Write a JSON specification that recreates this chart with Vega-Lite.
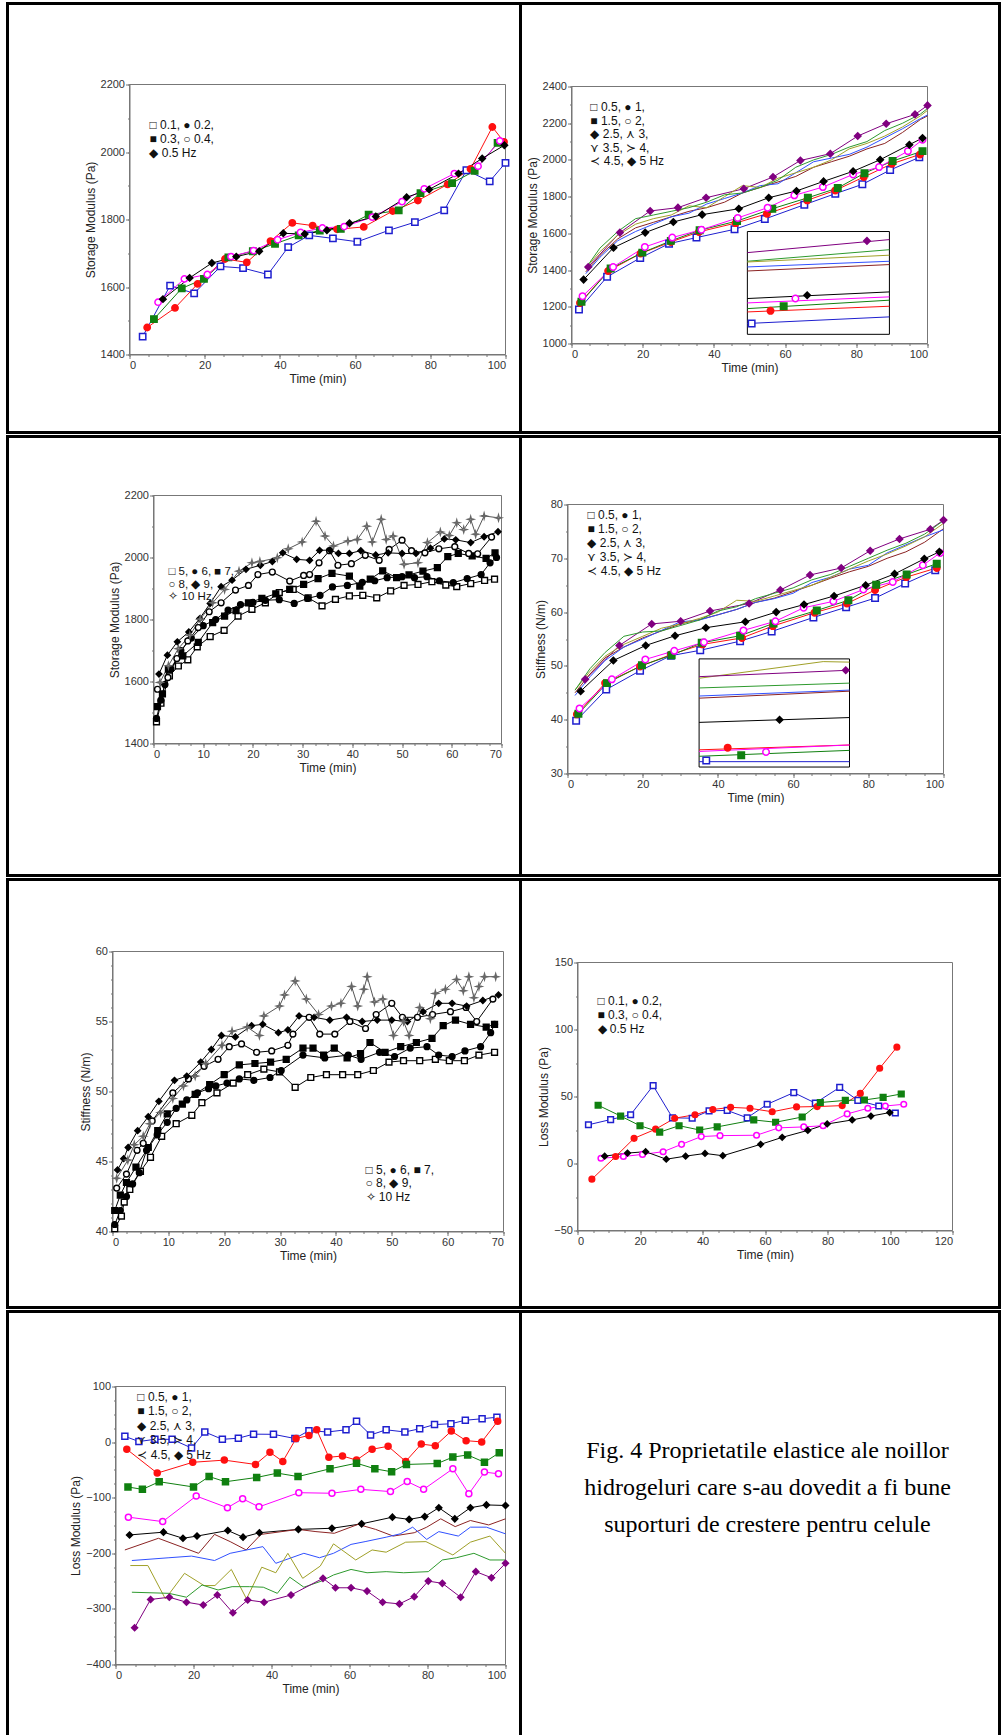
{
"$schema":"https://vega.github.io/schema/vega-lite/v6.json",
"padding":{"left":5.5,"top":1.5,"right":0,"bottom":0},"background":"white",
"spacing":0,
"resolve":{"scale":{"color":"independent","fill":"independent","stroke":"independent","shape":"independent"}},
"config":{"view":{"stroke":"black","strokeWidth":3},"axis":{"grid":false,"format":"d","labelFont":"Liberation Sans","titleFont":"Liberation Sans","labelFontSize":11,"titleFontSize":12,"titleFontWeight":"normal","labelColor":"#333333","titleColor":"#222222","domainColor":"#777777","tickColor":"#777777","tickSize":4,"labelPadding":1,"titlePadding":3},"text":{"font":"Liberation Sans","fontSize":12,"color":"#111111"}},
"datasets":{
"p1":[
{"s":"0.1","t":3.5,"v":1453},{"s":"0.1","t":10.8,"v":1604},{"s":"0.1","t":17.2,"v":1581},{"s":"0.1","t":24.2,"v":1661},{"s":"0.1","t":30.2,"v":1656},{"s":"0.1","t":36.8,"v":1637},{"s":"0.1","t":42.2,"v":1718},{"s":"0.1","t":47.8,"v":1753},{"s":"0.1","t":54.1,"v":1744},{"s":"0.1","t":60.6,"v":1734},{"s":"0.1","t":69,"v":1768},{"s":"0.1","t":75.9,"v":1792},{"s":"0.1","t":83.7,"v":1827},{"s":"0.1","t":89.6,"v":1946},{"s":"0.1","t":95.8,"v":1913},{"s":"0.1","t":100,"v":1968},
{"s":"0.2","t":4.7,"v":1480},{"s":"0.2","t":12.1,"v":1538},{"s":"0.2","t":18.1,"v":1609},{"s":"0.2","t":25.4,"v":1683},{"s":"0.2","t":31.2,"v":1673},{"s":"0.2","t":37.5,"v":1736},{"s":"0.2","t":43.3,"v":1790},{"s":"0.2","t":48.7,"v":1782},{"s":"0.2","t":55.2,"v":1771},{"s":"0.2","t":62.3,"v":1778},{"s":"0.2","t":70,"v":1825},{"s":"0.2","t":76.7,"v":1856},{"s":"0.2","t":84.6,"v":1904},{"s":"0.2","t":90.7,"v":1950},{"s":"0.2","t":96.5,"v":2074},{"s":"0.2","t":99.6,"v":2030},
{"s":"0.3","t":6.5,"v":1505},{"s":"0.3","t":13.9,"v":1596},{"s":"0.3","t":19.8,"v":1624},{"s":"0.3","t":26.3,"v":1688},{"s":"0.3","t":32.8,"v":1706},{"s":"0.3","t":38.7,"v":1728},{"s":"0.3","t":45,"v":1753},{"s":"0.3","t":50.6,"v":1767},{"s":"0.3","t":56.2,"v":1772},{"s":"0.3","t":63.6,"v":1814},{"s":"0.3","t":71.6,"v":1827},{"s":"0.3","t":77.4,"v":1878},{"s":"0.3","t":85.8,"v":1908},{"s":"0.3","t":91.8,"v":1944},{"s":"0.3","t":97.9,"v":2027},
{"s":"0.4","t":7.6,"v":1555},{"s":"0.4","t":14.6,"v":1624},{"s":"0.4","t":20.7,"v":1637},{"s":"0.4","t":27,"v":1690},{"s":"0.4","t":33,"v":1708},{"s":"0.4","t":39.4,"v":1740},{"s":"0.4","t":45.5,"v":1762},{"s":"0.4","t":51.3,"v":1775},{"s":"0.4","t":57.1,"v":1779},{"s":"0.4","t":64.6,"v":1807},{"s":"0.4","t":72.5,"v":1853},{"s":"0.4","t":78.4,"v":1891},{"s":"0.4","t":86.4,"v":1936},{"s":"0.4","t":92.7,"v":1958},{"s":"0.4","t":98.5,"v":2033},
{"s":"0.5","t":8.9,"v":1564},{"s":"0.5","t":16,"v":1627},{"s":"0.5","t":21.9,"v":1671},{"s":"0.5","t":28.4,"v":1690},{"s":"0.5","t":34.5,"v":1706},{"s":"0.5","t":40.9,"v":1759},{"s":"0.5","t":46.6,"v":1757},{"s":"0.5","t":52.5,"v":1768},{"s":"0.5","t":58.5,"v":1789},{"s":"0.5","t":65.5,"v":1809},{"s":"0.5","t":73.7,"v":1866},{"s":"0.5","t":79.7,"v":1889},{"s":"0.5","t":87.5,"v":1936},{"s":"0.5","t":93.8,"v":1981},{"s":"0.5","t":99.7,"v":2020}
],
"p2":[
{"s":"0.5","t":2.1,"v":1185},{"s":"0.5","t":10,"v":1363},{"s":"0.5","t":19.3,"v":1466},{"s":"0.5","t":27.4,"v":1544},{"s":"0.5","t":35.1,"v":1577},{"s":"0.5","t":45.8,"v":1622},{"s":"0.5","t":54.3,"v":1678},{"s":"0.5","t":65.4,"v":1756},{"s":"0.5","t":74.1,"v":1816},{"s":"0.5","t":81.7,"v":1867},{"s":"0.5","t":89.5,"v":1945},{"s":"0.5","t":97.7,"v":2014},
{"s":"1","t":2.4,"v":1221},{"s":"1","t":10.3,"v":1395},{"s":"1","t":19.4,"v":1490},{"s":"1","t":27.9,"v":1553},{"s":"1","t":35.8,"v":1608},{"s":"1","t":46.1,"v":1656},{"s":"1","t":54.9,"v":1707},{"s":"1","t":66.2,"v":1780},{"s":"1","t":74.1,"v":1834},{"s":"1","t":82.1,"v":1907},{"s":"1","t":90,"v":1979},{"s":"1","t":97.9,"v":2030},
{"s":"1.5","t":2.8,"v":1227},{"s":"1.5","t":11,"v":1408},{"s":"1.5","t":19.9,"v":1495},{"s":"1.5","t":27.9,"v":1559},{"s":"1.5","t":36,"v":1617},{"s":"1.5","t":46.5,"v":1667},{"s":"1.5","t":56.4,"v":1734},{"s":"1.5","t":66.4,"v":1794},{"s":"1.5","t":74.8,"v":1847},{"s":"1.5","t":82.3,"v":1928},{"s":"1.5","t":90.2,"v":1994},{"s":"1.5","t":98.6,"v":2048},
{"s":"2","t":3.1,"v":1258},{"s":"2","t":11.7,"v":1417},{"s":"2","t":20.6,"v":1526},{"s":"2","t":28.3,"v":1577},{"s":"2","t":36.5,"v":1620},{"s":"2","t":46.7,"v":1684},{"s":"2","t":55.1,"v":1740},{"s":"2","t":62.6,"v":1807},{"s":"2","t":70.6,"v":1852},{"s":"2","t":79.1,"v":1921},{"s":"2","t":86.4,"v":1961},{"s":"2","t":94.5,"v":2048},{"s":"2","t":98.6,"v":2110},
{"s":"2.5","t":3.4,"v":1348},{"s":"2.5","t":11.8,"v":1522},{"s":"2.5","t":20.7,"v":1604},{"s":"2.5","t":28.6,"v":1662},{"s":"2.5","t":36.7,"v":1702},{"s":"2.5","t":47,"v":1734},{"s":"2.5","t":55.4,"v":1794},{"s":"2.5","t":63.2,"v":1831},{"s":"2.5","t":70.8,"v":1883},{"s":"2.5","t":79.1,"v":1938},{"s":"2.5","t":86.7,"v":2001},{"s":"2.5","t":94.9,"v":2083},{"s":"2.5","t":98.6,"v":2119},
{"s":"5","t":4.7,"v":1417},{"s":"5","t":13.6,"v":1604},{"s":"5","t":22.1,"v":1722},{"s":"5","t":29.9,"v":1740},{"s":"5","t":37.8,"v":1794},{"s":"5","t":48.4,"v":1843},{"s":"5","t":56.6,"v":1907},{"s":"5","t":64.3,"v":1997},{"s":"5","t":72.7,"v":2034},{"s":"5","t":80.4,"v":2130},{"s":"5","t":88.4,"v":2197},{"s":"5","t":96.5,"v":2248},{"s":"5","t":100,"v":2297},
{"s":"3","t":4,"v":1390},{"s":"3","t":8,"v":1480},{"s":"3","t":13,"v":1570},{"s":"3","t":18,"v":1630},{"s":"3","t":23,"v":1660},{"s":"3","t":28,"v":1690},{"s":"3","t":33,"v":1720},{"s":"3","t":38,"v":1740},{"s":"3","t":43,"v":1770},{"s":"3","t":48,"v":1820},{"s":"3","t":53,"v":1850},{"s":"3","t":58,"v":1880},{"s":"3","t":63,"v":1910},{"s":"3","t":68,"v":1960},{"s":"3","t":73,"v":1990},{"s":"3","t":78,"v":2020},{"s":"3","t":83,"v":2060},{"s":"3","t":88,"v":2090},{"s":"3","t":93,"v":2150},{"s":"3","t":98,"v":2220},{"s":"3","t":100,"v":2240},
{"s":"3.5","t":4,"v":1380},{"s":"3.5","t":8,"v":1470},{"s":"3.5","t":13,"v":1560},{"s":"3.5","t":18,"v":1610},{"s":"3.5","t":23,"v":1650},{"s":"3.5","t":28,"v":1690},{"s":"3.5","t":33,"v":1710},{"s":"3.5","t":38,"v":1760},{"s":"3.5","t":43,"v":1790},{"s":"3.5","t":48,"v":1820},{"s":"3.5","t":53,"v":1860},{"s":"3.5","t":58,"v":1870},{"s":"3.5","t":63,"v":1930},{"s":"3.5","t":68,"v":1990},{"s":"3.5","t":73,"v":2010},{"s":"3.5","t":78,"v":2030},{"s":"3.5","t":83,"v":2070},{"s":"3.5","t":88,"v":2120},{"s":"3.5","t":93,"v":2170},{"s":"3.5","t":98,"v":2225},{"s":"3.5","t":100,"v":2245},
{"s":"4","t":4,"v":1410},{"s":"4","t":8,"v":1500},{"s":"4","t":13,"v":1590},{"s":"4","t":18,"v":1650},{"s":"4","t":23,"v":1680},{"s":"4","t":28,"v":1700},{"s":"4","t":33,"v":1750},{"s":"4","t":38,"v":1740},{"s":"4","t":43,"v":1800},{"s":"4","t":48,"v":1860},{"s":"4","t":53,"v":1850},{"s":"4","t":58,"v":1900},{"s":"4","t":63,"v":1930},{"s":"4","t":68,"v":1960},{"s":"4","t":73,"v":2000},{"s":"4","t":78,"v":2060},{"s":"4","t":83,"v":2090},{"s":"4","t":88,"v":2130},{"s":"4","t":93,"v":2180},{"s":"4","t":98,"v":2240},{"s":"4","t":100,"v":2270},
{"s":"4.5","t":4,"v":1410},{"s":"4.5","t":8,"v":1520},{"s":"4.5","t":13,"v":1610},{"s":"4.5","t":18,"v":1680},{"s":"4.5","t":23,"v":1700},{"s":"4.5","t":28,"v":1720},{"s":"4.5","t":33,"v":1740},{"s":"4.5","t":38,"v":1770},{"s":"4.5","t":43,"v":1810},{"s":"4.5","t":48,"v":1820},{"s":"4.5","t":53,"v":1850},{"s":"4.5","t":58,"v":1890},{"s":"4.5","t":63,"v":1960},{"s":"4.5","t":68,"v":2000},{"s":"4.5","t":73,"v":2030},{"s":"4.5","t":78,"v":2070},{"s":"4.5","t":83,"v":2100},{"s":"4.5","t":88,"v":2160},{"s":"4.5","t":93,"v":2200},{"s":"4.5","t":98,"v":2250},{"s":"4.5","t":100,"v":2280}
],
"p2i":[
{"s":"5","t":49.4,"v":1495},{"s":"5","t":89.3,"v":1566},
{"s":"4.5","t":49.4,"v":1448},{"s":"4.5","t":89.3,"v":1511},
{"s":"4","t":49.4,"v":1444},{"s":"4","t":89.3,"v":1481},
{"s":"3.5","t":49.4,"v":1417},{"s":"3.5","t":89.3,"v":1448},
{"s":"3","t":49.4,"v":1395},{"s":"3","t":89.3,"v":1430},
{"s":"2.5","t":49.4,"v":1245},{"s":"2.5","t":89.3,"v":1281},
{"s":"2","t":49.4,"v":1221},{"s":"2","t":89.3,"v":1254},
{"s":"1.5","t":49.4,"v":1190},{"s":"1.5","t":89.3,"v":1236},
{"s":"1","t":49.4,"v":1172},{"s":"1","t":89.3,"v":1203},
{"s":"0.5","t":49.4,"v":1109},{"s":"0.5","t":89.3,"v":1145}
],
"p2m":[
{"s":"5","t":83,"v":1559},{"s":"2.5","t":66.2,"v":1263},{"s":"2","t":62.9,"v":1245},{"s":"1.5","t":59.6,"v":1203},{"s":"1","t":55.9,"v":1178},{"s":"0.5","t":50.6,"v":1109}
],
"p3":[
{"s":"5","t":0.6,"v":1470},{"s":"5","t":1.5,"v":1530},{"s":"5","t":3.2,"v":1618},{"s":"5","t":5,"v":1650},{"s":"5","t":6.9,"v":1670},{"s":"5","t":8.8,"v":1712},{"s":"5","t":11.4,"v":1745},{"s":"5","t":14.2,"v":1765},{"s":"5","t":17,"v":1811},{"s":"5","t":19.8,"v":1833},{"s":"5","t":22.5,"v":1854},{"s":"5","t":25.3,"v":1887},{"s":"5","t":28.1,"v":1897},{"s":"5","t":31.1,"v":1870},{"s":"5","t":33.9,"v":1844},{"s":"5","t":36.6,"v":1865},{"s":"5","t":39.4,"v":1876},{"s":"5","t":42.1,"v":1878},{"s":"5","t":44.9,"v":1870},{"s":"5","t":47.7,"v":1892},{"s":"5","t":50.4,"v":1910},{"s":"5","t":53.2,"v":1913},{"s":"5","t":56,"v":1922},{"s":"5","t":58.8,"v":1911},{"s":"5","t":61,"v":1906},{"s":"5","t":63.8,"v":1916},{"s":"5","t":66.6,"v":1926},{"s":"5","t":68.6,"v":1930},
{"s":"6","t":0.6,"v":1481},{"s":"6","t":1.5,"v":1540},{"s":"6","t":2.3,"v":1590},{"s":"6","t":3.5,"v":1640},{"s":"6","t":5.5,"v":1700},{"s":"6","t":7.6,"v":1740},{"s":"6","t":10,"v":1780},{"s":"6","t":12.5,"v":1800},{"s":"6","t":15,"v":1830},{"s":"6","t":17.5,"v":1848},{"s":"6","t":20,"v":1855},{"s":"6","t":22.5,"v":1862},{"s":"6","t":25.3,"v":1864},{"s":"6","t":28.3,"v":1852},{"s":"6","t":31,"v":1868},{"s":"6","t":33.5,"v":1878},{"s":"6","t":36,"v":1905},{"s":"6","t":39,"v":1910},{"s":"6","t":42,"v":1920},{"s":"6","t":44.5,"v":1925},{"s":"6","t":47,"v":1935},{"s":"6","t":50,"v":1938},{"s":"6","t":52.5,"v":1935},{"s":"6","t":55,"v":1938},{"s":"6","t":57.5,"v":1925},{"s":"6","t":60.3,"v":1919},{"s":"6","t":63.1,"v":1932},{"s":"6","t":65.9,"v":1945},{"s":"6","t":67.7,"v":1983},{"s":"6","t":69,"v":2000},
{"s":"7","t":0.8,"v":1519},{"s":"7","t":1.8,"v":1560},{"s":"7","t":3,"v":1640},{"s":"7","t":5.9,"v":1683},{"s":"7","t":9,"v":1726},{"s":"7","t":11.9,"v":1790},{"s":"7","t":14.3,"v":1811},{"s":"7","t":16.6,"v":1829},{"s":"7","t":19.1,"v":1854},{"s":"7","t":21.8,"v":1868},{"s":"7","t":24.6,"v":1883},{"s":"7","t":27.4,"v":1897},{"s":"7","t":30.2,"v":1913},{"s":"7","t":33.1,"v":1932},{"s":"7","t":35.9,"v":1949},{"s":"7","t":39.4,"v":1940},{"s":"7","t":41.5,"v":1908},{"s":"7","t":43.6,"v":1930},{"s":"7","t":46.1,"v":1957},{"s":"7","t":48.9,"v":1935},{"s":"7","t":51.4,"v":1944},{"s":"7","t":54.2,"v":1956},{"s":"7","t":57.1,"v":1967},{"s":"7","t":59.2,"v":2003},{"s":"7","t":61.3,"v":2013},{"s":"7","t":64.1,"v":2005},{"s":"7","t":66.9,"v":1997},{"s":"7","t":68.7,"v":2015},
{"s":"8","t":0.8,"v":1575},{"s":"8","t":2.9,"v":1613},{"s":"8","t":4.7,"v":1674},{"s":"8","t":6.9,"v":1731},{"s":"8","t":9,"v":1774},{"s":"8","t":11.2,"v":1825},{"s":"8","t":13.6,"v":1854},{"s":"8","t":16.5,"v":1895},{"s":"8","t":19.1,"v":1910},{"s":"8","t":21,"v":1945},{"s":"8","t":23.9,"v":1953},{"s":"8","t":27.4,"v":1924},{"s":"8","t":30.2,"v":1942},{"s":"8","t":31.4,"v":1945},{"s":"8","t":33.3,"v":1983},{"s":"8","t":35.4,"v":2022},{"s":"8","t":37.1,"v":1975},{"s":"8","t":39.8,"v":1980},{"s":"8","t":42.6,"v":2007},{"s":"8","t":45.4,"v":1991},{"s":"8","t":47.4,"v":2026},{"s":"8","t":50,"v":2056},{"s":"8","t":51.9,"v":2022},{"s":"8","t":54.6,"v":2015},{"s":"8","t":57.4,"v":2028},{"s":"8","t":60.6,"v":2035},{"s":"8","t":63.4,"v":2013},{"s":"8","t":65.2,"v":2012},{"s":"8","t":68,"v":2066},
{"s":"9","t":1.1,"v":1624},{"s":"9","t":2.8,"v":1685},{"s":"9","t":4.8,"v":1728},{"s":"9","t":7.1,"v":1760},{"s":"9","t":9.3,"v":1803},{"s":"9","t":11.4,"v":1852},{"s":"9","t":13.6,"v":1906},{"s":"9","t":15.8,"v":1927},{"s":"9","t":18.6,"v":1962},{"s":"9","t":21.5,"v":1975},{"s":"9","t":23.9,"v":1987},{"s":"9","t":26,"v":2015},{"s":"9","t":28.8,"v":1994},{"s":"9","t":31.4,"v":1991},{"s":"9","t":33.4,"v":2023},{"s":"9","t":35.5,"v":2024},{"s":"9","t":37.2,"v":2013},{"s":"9","t":39.4,"v":2013},{"s":"9","t":41.7,"v":2022},{"s":"9","t":44.7,"v":2008},{"s":"9","t":47.2,"v":2015},{"s":"9","t":50,"v":2013},{"s":"9","t":52.8,"v":2013},{"s":"9","t":55.7,"v":2030},{"s":"9","t":58.5,"v":2060},{"s":"9","t":60.8,"v":2057},{"s":"9","t":63.8,"v":2048},{"s":"9","t":66.5,"v":2067},{"s":"9","t":69.3,"v":2083},
{"s":"10","t":1.3,"v":1597},{"s":"10","t":3,"v":1651},{"s":"10","t":5,"v":1706},{"s":"10","t":7.3,"v":1749},{"s":"10","t":9.4,"v":1801},{"s":"10","t":11.9,"v":1854},{"s":"10","t":14.3,"v":1897},{"s":"10","t":17.2,"v":1956},{"s":"10","t":19.8,"v":1983},{"s":"10","t":21.4,"v":1987},{"s":"10","t":24.9,"v":1999},{"s":"10","t":27.1,"v":2028},{"s":"10","t":29.9,"v":2050},{"s":"10","t":32.7,"v":2117},{"s":"10","t":34.5,"v":2069},{"s":"10","t":36.2,"v":2037},{"s":"10","t":39.1,"v":2053},{"s":"10","t":41,"v":2058},{"s":"10","t":42.9,"v":2101},{"s":"10","t":44,"v":2050},{"s":"10","t":45.8,"v":2123},{"s":"10","t":46.8,"v":2058},{"s":"10","t":48.2,"v":2069},{"s":"10","t":50.4,"v":1978},{"s":"10","t":53.2,"v":1983},{"s":"10","t":55.1,"v":2048},{"s":"10","t":57.7,"v":2082},{"s":"10","t":59.5,"v":2071},{"s":"10","t":61,"v":2112},{"s":"10","t":62.4,"v":2090},{"s":"10","t":63.8,"v":2123},{"s":"10","t":64.8,"v":2075},{"s":"10","t":66.5,"v":2134},{"s":"10","t":69.4,"v":2128}
],
"p4":[
{"s":"0.5","t":2.3,"v":39.8},{"s":"0.5","t":10.3,"v":45.6},{"s":"0.5","t":19.3,"v":49.1},{"s":"0.5","t":27.5,"v":51.9},{"s":"0.5","t":35.3,"v":52.9},{"s":"0.5","t":45.9,"v":54.6},{"s":"0.5","t":54.3,"v":56.4},{"s":"0.5","t":65.4,"v":59},{"s":"0.5","t":74.1,"v":60.9},{"s":"0.5","t":81.8,"v":62.6},{"s":"0.5","t":89.8,"v":65.3},{"s":"0.5","t":97.8,"v":67.8},
{"s":"1","t":2.5,"v":41},{"s":"1","t":10,"v":46.8},{"s":"1","t":19.3,"v":49.9},{"s":"1","t":27.5,"v":52.1},{"s":"1","t":35.9,"v":54},{"s":"1","t":46.4,"v":55.2},{"s":"1","t":54.6,"v":57.4},{"s":"1","t":65.7,"v":59.9},{"s":"1","t":74.3,"v":61.6},{"s":"1","t":81.8,"v":64.1},{"s":"1","t":90.1,"v":66.5},{"s":"1","t":98.2,"v":68.2},
{"s":"1.5","t":2.9,"v":41.1},{"s":"1.5","t":10.5,"v":46.8},{"s":"1.5","t":19.8,"v":50.1},{"s":"1.5","t":27.7,"v":52},{"s":"1.5","t":35.7,"v":54.3},{"s":"1.5","t":45.9,"v":55.6},{"s":"1.5","t":54.8,"v":57.9},{"s":"1.5","t":66.3,"v":60.3},{"s":"1.5","t":74.7,"v":62.2},{"s":"1.5","t":82.1,"v":65.1},{"s":"1.5","t":90.2,"v":67},{"s":"1.5","t":98.2,"v":69},
{"s":"2","t":3.2,"v":42.1},{"s":"2","t":11.8,"v":47.5},{"s":"2","t":20.7,"v":51.2},{"s":"2","t":28.4,"v":52.8},{"s":"2","t":36.3,"v":54.4},{"s":"2","t":46.8,"v":56.6},{"s":"2","t":55.3,"v":58.3},{"s":"2","t":62.8,"v":60.8},{"s":"2","t":70.7,"v":62},{"s":"2","t":78.7,"v":64.2},{"s":"2","t":86.5,"v":65.6},{"s":"2","t":94.5,"v":68.7},{"s":"2","t":99.1,"v":71},
{"s":"2.5","t":3.5,"v":45.3},{"s":"2.5","t":12.2,"v":51},{"s":"2.5","t":20.8,"v":53.8},{"s":"2.5","t":28.6,"v":55.6},{"s":"2.5","t":36.8,"v":57.1},{"s":"2.5","t":47.3,"v":58.2},{"s":"2.5","t":55.5,"v":60},{"s":"2.5","t":62.9,"v":61.4},{"s":"2.5","t":70.9,"v":63},{"s":"2.5","t":79.3,"v":65},{"s":"2.5","t":87,"v":67.1},{"s":"2.5","t":94.9,"v":69.9},{"s":"2.5","t":98.9,"v":71.2},
{"s":"5","t":4.7,"v":47.5},{"s":"5","t":13.8,"v":53.8},{"s":"5","t":22.4,"v":57.8},{"s":"5","t":30.1,"v":58.3},{"s":"5","t":37.9,"v":60.2},{"s":"5","t":48.3,"v":61.6},{"s":"5","t":56.6,"v":64.1},{"s":"5","t":64.5,"v":66.9},{"s":"5","t":72.8,"v":68.2},{"s":"5","t":80.5,"v":71.4},{"s":"5","t":88.3,"v":73.6},{"s":"5","t":96.5,"v":75.4},{"s":"5","t":100,"v":77.1},
{"s":"3","t":2,"v":45},{"s":"3","t":6,"v":48.5},{"s":"3","t":10,"v":51.5},{"s":"3","t":15,"v":53.5},{"s":"3","t":20,"v":55.2},{"s":"3","t":25,"v":56.5},{"s":"3","t":30,"v":57.8},{"s":"3","t":35,"v":58.6},{"s":"3","t":40,"v":59.5},{"s":"3","t":45,"v":60.5},{"s":"3","t":50,"v":61.8},{"s":"3","t":55,"v":62.6},{"s":"3","t":60,"v":63.8},{"s":"3","t":65,"v":65},{"s":"3","t":70,"v":66.3},{"s":"3","t":75,"v":67.5},{"s":"3","t":80,"v":68.5},{"s":"3","t":85,"v":70},{"s":"3","t":90,"v":71.2},{"s":"3","t":95,"v":73},{"s":"3","t":100,"v":75.5},
{"s":"3.5","t":2,"v":44.5},{"s":"3.5","t":6,"v":48},{"s":"3.5","t":10,"v":51},{"s":"3.5","t":15,"v":53.5},{"s":"3.5","t":20,"v":55},{"s":"3.5","t":25,"v":56.6},{"s":"3.5","t":30,"v":58.2},{"s":"3.5","t":35,"v":58.5},{"s":"3.5","t":40,"v":59.5},{"s":"3.5","t":45,"v":60.5},{"s":"3.5","t":50,"v":61.8},{"s":"3.5","t":55,"v":62.5},{"s":"3.5","t":60,"v":63.5},{"s":"3.5","t":65,"v":65.5},{"s":"3.5","t":70,"v":66.5},{"s":"3.5","t":75,"v":68},{"s":"3.5","t":80,"v":68.7},{"s":"3.5","t":85,"v":71},{"s":"3.5","t":90,"v":72.5},{"s":"3.5","t":95,"v":74},{"s":"3.5","t":100,"v":75.3},
{"s":"4","t":2,"v":45.5},{"s":"4","t":6,"v":49},{"s":"4","t":10,"v":51.8},{"s":"4","t":15,"v":54},{"s":"4","t":20,"v":55.5},{"s":"4","t":25,"v":57},{"s":"4","t":30,"v":57.8},{"s":"4","t":35,"v":58.8},{"s":"4","t":40,"v":60},{"s":"4","t":45,"v":62.2},{"s":"4","t":50,"v":62},{"s":"4","t":55,"v":63},{"s":"4","t":60,"v":64},{"s":"4","t":65,"v":65},{"s":"4","t":70,"v":66.5},{"s":"4","t":75,"v":68},{"s":"4","t":80,"v":69.5},{"s":"4","t":85,"v":70.8},{"s":"4","t":90,"v":72.3},{"s":"4","t":95,"v":74},{"s":"4","t":100,"v":76.5},
{"s":"4.5","t":2,"v":45.5},{"s":"4.5","t":6,"v":49.5},{"s":"4.5","t":10,"v":52.5},{"s":"4.5","t":15,"v":55.5},{"s":"4.5","t":20,"v":56.3},{"s":"4.5","t":25,"v":56.5},{"s":"4.5","t":30,"v":57.5},{"s":"4.5","t":35,"v":58.5},{"s":"4.5","t":40,"v":60.2},{"s":"4.5","t":45,"v":61},{"s":"4.5","t":50,"v":62.5},{"s":"4.5","t":55,"v":63.5},{"s":"4.5","t":60,"v":64.5},{"s":"4.5","t":65,"v":66},{"s":"4.5","t":70,"v":67},{"s":"4.5","t":75,"v":68.5},{"s":"4.5","t":80,"v":70},{"s":"4.5","t":85,"v":71.5},{"s":"4.5","t":90,"v":72.8},{"s":"4.5","t":95,"v":74.5},{"s":"4.5","t":100,"v":77}
],
"p4i":[
{"s":"4","t":35,"v":47.7},{"s":"4","t":68,"v":50.8},{"s":"4","t":75,"v":50.7},
{"s":"5","t":35,"v":48},{"s":"5","t":75,"v":49.2},
{"s":"4.5","t":35,"v":45.9},{"s":"4.5","t":75,"v":46.8},
{"s":"3.5","t":35,"v":44.4},{"s":"3.5","t":75,"v":45.5},
{"s":"3","t":35,"v":44},{"s":"3","t":75,"v":45.3},
{"s":"2.5","t":35,"v":39.5},{"s":"2.5","t":75,"v":40.4},
{"s":"1","t":35,"v":34.4},{"s":"1","t":75,"v":35.3},
{"s":"2","t":35,"v":34.1},{"s":"2","t":75,"v":35.3},
{"s":"1.5","t":35,"v":33.2},{"s":"1.5","t":75,"v":34.3},
{"s":"0.5","t":35,"v":32.2},{"s":"0.5","t":75,"v":32.2}
],
"p4m":[
{"s":"5","t":74,"v":49.2},{"s":"2.5","t":56.4,"v":40},{"s":"1","t":42.6,"v":34.8},{"s":"2","t":52.8,"v":34},{"s":"1.5","t":46.2,"v":33.4},{"s":"0.5","t":36.9,"v":32.4}
],
"p5":[
{"s":"5","t":0.4,"v":40.2},{"s":"5","t":1.6,"v":41.1},{"s":"5","t":2.1,"v":42.1},{"s":"5","t":3.1,"v":43},{"s":"5","t":5,"v":44.3},{"s":"5","t":6.8,"v":45.3},{"s":"5","t":8.8,"v":46.8},{"s":"5","t":11.4,"v":47.7},{"s":"5","t":14.2,"v":48.3},{"s":"5","t":16,"v":49.2},{"s":"5","t":18.7,"v":49.9},{"s":"5","t":21.6,"v":50.6},{"s":"5","t":24.2,"v":51.2},{"s":"5","t":27.1,"v":51.6},{"s":"5","t":29.9,"v":51.4},{"s":"5","t":32.7,"v":50.3},{"s":"5","t":35.5,"v":51},{"s":"5","t":38.3,"v":51.2},{"s":"5","t":41.2,"v":51.2},{"s":"5","t":43.9,"v":51.2},{"s":"5","t":46.7,"v":51.5},{"s":"5","t":49.5,"v":52.1},{"s":"5","t":52.1,"v":52.2},{"s":"5","t":55,"v":52.2},{"s":"5","t":57.8,"v":52.3},{"s":"5","t":60.3,"v":52.2},{"s":"5","t":63,"v":52.2},{"s":"5","t":65.6,"v":52.6},{"s":"5","t":68.4,"v":52.8},
{"s":"6","t":0.4,"v":40.5},{"s":"6","t":1.4,"v":41.5},{"s":"6","t":2.5,"v":42.5},{"s":"6","t":3.6,"v":43.4},{"s":"6","t":4.8,"v":44.2},{"s":"6","t":6.1,"v":45.8},{"s":"6","t":8,"v":46.9},{"s":"6","t":9.8,"v":47.8},{"s":"6","t":11.4,"v":48.8},{"s":"6","t":13.3,"v":49.4},{"s":"6","t":15.2,"v":49.9},{"s":"6","t":17.2,"v":50.2},{"s":"6","t":18.5,"v":50.4},{"s":"6","t":20.5,"v":50.6},{"s":"6","t":22.7,"v":50.9},{"s":"6","t":25.3,"v":50.8},{"s":"6","t":28.2,"v":51},{"s":"6","t":30.2,"v":51.5},{"s":"6","t":34.1,"v":52.6},{"s":"6","t":38,"v":52.4},{"s":"6","t":42.2,"v":52.6},{"s":"6","t":44.5,"v":52.3},{"s":"6","t":47.8,"v":52.8},{"s":"6","t":50.5,"v":52.5},{"s":"6","t":53.3,"v":53.1},{"s":"6","t":56.3,"v":53.2},{"s":"6","t":58.4,"v":52.6},{"s":"6","t":60.8,"v":52.5},{"s":"6","t":63.1,"v":52.9},{"s":"6","t":65.9,"v":53.2},{"s":"6","t":67.7,"v":54.2},{"s":"6","t":68.4,"v":54.8},
{"s":"7","t":0.4,"v":41.5},{"s":"7","t":1.4,"v":42.6},{"s":"7","t":2.5,"v":43.5},{"s":"7","t":4.2,"v":44.6},{"s":"7","t":6.4,"v":46},{"s":"7","t":8.1,"v":47.2},{"s":"7","t":9.8,"v":48.4},{"s":"7","t":12.5,"v":49.1},{"s":"7","t":14.8,"v":49.8},{"s":"7","t":17.4,"v":50.5},{"s":"7","t":20,"v":51.2},{"s":"7","t":22.7,"v":51.9},{"s":"7","t":25.5,"v":52},{"s":"7","t":28.3,"v":52.1},{"s":"7","t":31.1,"v":52.3},{"s":"7","t":34.1,"v":53.1},{"s":"7","t":35.9,"v":53.1},{"s":"7","t":37.8,"v":52.6},{"s":"7","t":39.7,"v":53.1},{"s":"7","t":42,"v":52.4},{"s":"7","t":44.4,"v":52.7},{"s":"7","t":46.1,"v":53.5},{"s":"7","t":48.8,"v":52.8},{"s":"7","t":51.6,"v":53.2},{"s":"7","t":54.4,"v":53.5},{"s":"7","t":57.2,"v":53.8},{"s":"7","t":59.2,"v":54.7},{"s":"7","t":61.4,"v":55.1},{"s":"7","t":64.1,"v":54.8},{"s":"7","t":66.9,"v":54.6},{"s":"7","t":68.4,"v":54.8},
{"s":"8","t":0.75,"v":43.1},{"s":"8","t":2.5,"v":44.1},{"s":"8","t":4.4,"v":45.8},{"s":"8","t":5.5,"v":46.3},{"s":"8","t":7.1,"v":47.9},{"s":"8","t":10.8,"v":49.9},{"s":"8","t":13.6,"v":50.9},{"s":"8","t":16.4,"v":51.8},{"s":"8","t":18.9,"v":52.3},{"s":"8","t":20.9,"v":53.2},{"s":"8","t":23.1,"v":53.4},{"s":"8","t":25.8,"v":52.8},{"s":"8","t":28.5,"v":52.9},{"s":"8","t":31.4,"v":53.3},{"s":"8","t":32.3,"v":54.1},{"s":"8","t":35.2,"v":55.3},{"s":"8","t":37.1,"v":54.1},{"s":"8","t":39.8,"v":54.1},{"s":"8","t":42.5,"v":55},{"s":"8","t":45.3,"v":54.5},{"s":"8","t":47.2,"v":55.5},{"s":"8","t":50,"v":56.3},{"s":"8","t":51.9,"v":55.3},{"s":"8","t":54.6,"v":55.3},{"s":"8","t":57.3,"v":55.5},{"s":"8","t":60.5,"v":55.7},{"s":"8","t":63.3,"v":56},{"s":"8","t":65.2,"v":55},{"s":"8","t":68.1,"v":56.6},
{"s":"9","t":0.9,"v":44.4},{"s":"9","t":2,"v":45.2},{"s":"9","t":2.8,"v":46},{"s":"9","t":4.5,"v":47.2},{"s":"9","t":6.4,"v":48.2},{"s":"9","t":8.3,"v":49.3},{"s":"9","t":11.1,"v":50.8},{"s":"9","t":13.3,"v":51.1},{"s":"9","t":15.8,"v":52.1},{"s":"9","t":17.7,"v":53},{"s":"9","t":19.5,"v":54},{"s":"9","t":22,"v":53.9},{"s":"9","t":24.9,"v":54.7},{"s":"9","t":26.9,"v":54.8},{"s":"9","t":29.7,"v":54.2},{"s":"9","t":31.4,"v":54.4},{"s":"9","t":33.4,"v":55.4},{"s":"9","t":36.1,"v":55.3},{"s":"9","t":38.9,"v":55.1},{"s":"9","t":41.9,"v":55.3},{"s":"9","t":44.7,"v":55},{"s":"9","t":47.4,"v":55.1},{"s":"9","t":50,"v":55.1},{"s":"9","t":52.8,"v":55},{"s":"9","t":55.6,"v":55.7},{"s":"9","t":58.4,"v":56.3},{"s":"9","t":60.8,"v":56.3},{"s":"9","t":63.4,"v":56.1},{"s":"9","t":66.3,"v":56.5},{"s":"9","t":69.1,"v":56.9},
{"s":"10","t":0.75,"v":43.8},{"s":"10","t":2.75,"v":45.1},{"s":"10","t":3.9,"v":46.2},{"s":"10","t":5.5,"v":46.8},{"s":"10","t":6.7,"v":47.7},{"s":"10","t":8.6,"v":48.5},{"s":"10","t":10.8,"v":49.5},{"s":"10","t":12.7,"v":50.4},{"s":"10","t":14.8,"v":51.1},{"s":"10","t":16.7,"v":52},{"s":"10","t":19.6,"v":53.3},{"s":"10","t":21.4,"v":54.3},{"s":"10","t":24.1,"v":54.6},{"s":"10","t":26.3,"v":54},{"s":"10","t":27.1,"v":55.4},{"s":"10","t":29.9,"v":56.1},{"s":"10","t":30.8,"v":56.9},{"s":"10","t":32.7,"v":57.9},{"s":"10","t":34.7,"v":56.6},{"s":"10","t":36.9,"v":55.5},{"s":"10","t":39.2,"v":56.1},{"s":"10","t":40.9,"v":56.3},{"s":"10","t":42.8,"v":57.5},{"s":"10","t":43.9,"v":56.1},{"s":"10","t":45,"v":57.3},{"s":"10","t":45.6,"v":58.2},{"s":"10","t":46.9,"v":56.4},{"s":"10","t":48.4,"v":56.6},{"s":"10","t":50.3,"v":54},{"s":"10","t":52.1,"v":55},{"s":"10","t":53.1,"v":54},{"s":"10","t":55,"v":56},{"s":"10","t":56.9,"v":55.2},{"s":"10","t":57.8,"v":57},{"s":"10","t":59.6,"v":57.3},{"s":"10","t":61.6,"v":58},{"s":"10","t":62.8,"v":57.2},{"s":"10","t":63.8,"v":58.2},{"s":"10","t":64.7,"v":56.7},{"s":"10","t":65.6,"v":57.5},{"s":"10","t":66.6,"v":58.2},{"s":"10","t":68.6,"v":58.2}
],
"p6":[
{"s":"0.1","t":3.5,"v":28.9},{"s":"0.1","t":10.6,"v":32.8},{"s":"0.1","t":17,"v":36.4},{"s":"0.1","t":24.2,"v":58.1},{"s":"0.1","t":30.4,"v":34.1},{"s":"0.1","t":36.7,"v":33.8},{"s":"0.1","t":42.1,"v":39.3},{"s":"0.1","t":47.9,"v":39.6},{"s":"0.1","t":54.3,"v":34.1},{"s":"0.1","t":60.7,"v":44.2},{"s":"0.1","t":69.2,"v":52.9},{"s":"0.1","t":76.1,"v":45.1},{"s":"0.1","t":83.9,"v":56.8},{"s":"0.1","t":89.7,"v":47.1},{"s":"0.1","t":96.4,"v":42.9},{"s":"0.1","t":101.7,"v":37.7},
{"s":"0.2","t":4.6,"v":-11.7},{"s":"0.2","t":12.2,"v":5.2},{"s":"0.2","t":18.1,"v":18.8},{"s":"0.2","t":25,"v":25.6},{"s":"0.2","t":31.1,"v":33.8},{"s":"0.2","t":37.6,"v":36.4},{"s":"0.2","t":43.3,"v":40.3},{"s":"0.2","t":49,"v":41.9},{"s":"0.2","t":55.2,"v":41.2},{"s":"0.2","t":62.3,"v":38.6},{"s":"0.2","t":70.1,"v":42.2},{"s":"0.2","t":76.7,"v":42.5},{"s":"0.2","t":84.7,"v":43.2},{"s":"0.2","t":90.5,"v":52.3},{"s":"0.2","t":96.7,"v":71.1},{"s":"0.2","t":102.2,"v":86.8},
{"s":"0.3","t":6.6,"v":43.5},{"s":"0.3","t":13.8,"v":35.4},{"s":"0.3","t":20,"v":28.2},{"s":"0.3","t":26.3,"v":23.4},{"s":"0.3","t":32.5,"v":28.2},{"s":"0.3","t":39.1,"v":25},{"s":"0.3","t":44.7,"v":27.3},{"s":"0.3","t":56.4,"v":32.5},{"s":"0.3","t":63.4,"v":30.8},{"s":"0.3","t":71.9,"v":34.7},{"s":"0.3","t":77.7,"v":45.5},{"s":"0.3","t":85.7,"v":47.1},{"s":"0.3","t":91.8,"v":47.4},{"s":"0.3","t":97.8,"v":49.4},{"s":"0.3","t":103.6,"v":51.9},
{"s":"0.4","t":7.5,"v":3.9},{"s":"0.4","t":14.7,"v":5.2},{"s":"0.4","t":20.8,"v":6.8},{"s":"0.4","t":27.4,"v":8.8},{"s":"0.4","t":33.3,"v":14.3},{"s":"0.4","t":39.6,"v":20.1},{"s":"0.4","t":45.6,"v":20.8},{"s":"0.4","t":57.3,"v":21.1},{"s":"0.4","t":64.4,"v":26.6},{"s":"0.4","t":72.4,"v":27.3},{"s":"0.4","t":78.6,"v":28.2},{"s":"0.4","t":86.3,"v":37},{"s":"0.4","t":92.9,"v":41.2},{"s":"0.4","t":98.5,"v":42.9},{"s":"0.4","t":104.4,"v":44.2},
{"s":"0.5","t":8.7,"v":5.5},{"s":"0.5","t":16,"v":7.8},{"s":"0.5","t":21.8,"v":8.8},{"s":"0.5","t":28.4,"v":3.2},{"s":"0.5","t":34.6,"v":5.5},{"s":"0.5","t":40.8,"v":7.5},{"s":"0.5","t":46.5,"v":5.8},{"s":"0.5","t":58.6,"v":14.3},{"s":"0.5","t":65.5,"v":19.5},{"s":"0.5","t":73.7,"v":24.7},{"s":"0.5","t":79.9,"v":29.5},{"s":"0.5","t":87.9,"v":32.5},{"s":"0.5","t":93.9,"v":35.4},{"s":"0.5","t":99.9,"v":38}
],
"p7":[
{"s":"0.5","t":2.4,"v":10.4},{"s":"0.5","t":6,"v":1},{"s":"0.5","t":10.1,"v":5},{"s":"0.5","t":14.5,"v":5},{"s":"0.5","t":19.5,"v":-10.6},{"s":"0.5","t":22.9,"v":18.2},{"s":"0.5","t":27.4,"v":5},{"s":"0.5","t":31.5,"v":7},{"s":"0.5","t":35.4,"v":14.3},{"s":"0.5","t":40.5,"v":14},{"s":"0.5","t":46,"v":6.5},{"s":"0.5","t":49.6,"v":20.6},{"s":"0.5","t":54.4,"v":18.2},{"s":"0.5","t":59.1,"v":22.1},{"s":"0.5","t":61.8,"v":37.7},{"s":"0.5","t":65.4,"v":12.8},{"s":"0.5","t":69.4,"v":22.1},{"s":"0.5","t":74.2,"v":18.2},{"s":"0.5","t":78,"v":24},{"s":"0.5","t":81.8,"v":31.5},{"s":"0.5","t":86,"v":33},{"s":"0.5","t":89.7,"v":39.3},{"s":"0.5","t":94,"v":42},{"s":"0.5","t":97.8,"v":44.7},
{"s":"1","t":2.9,"v":-12.9},{"s":"1","t":10.7,"v":-55.8},{"s":"1","t":19.8,"v":-36.3},{"s":"1","t":27.9,"v":-32.4},{"s":"1","t":35.9,"v":-40.2},{"s":"1","t":39.6,"v":-18.4},{"s":"1","t":42.9,"v":-34.7},{"s":"1","t":46.3,"v":6.5},{"s":"1","t":49.6,"v":12},{"s":"1","t":51.6,"v":22.1},{"s":"1","t":54.7,"v":-27.3},{"s":"1","t":58.2,"v":-25},{"s":"1","t":61.8,"v":-32.4},{"s":"1","t":65.8,"v":-12.9},{"s":"1","t":69.9,"v":-7.5},{"s":"1","t":74.4,"v":-34.7},{"s":"1","t":78.4,"v":-3.6},{"s":"1","t":82,"v":-6.7},{"s":"1","t":86.1,"v":19.8},{"s":"1","t":89.9,"v":2.6},{"s":"1","t":93.9,"v":0.3},{"s":"1","t":98,"v":37.7},
{"s":"1.5","t":3.2,"v":-80.7},{"s":"1.5","t":6.9,"v":-85},{"s":"1.5","t":11.2,"v":-71.3},{"s":"1.5","t":20,"v":-80.7},{"s":"1.5","t":24,"v":-62},{"s":"1.5","t":28.2,"v":-71.3},{"s":"1.5","t":36.2,"v":-63.6},{"s":"1.5","t":41.5,"v":-55.8},{"s":"1.5","t":46.8,"v":-62},{"s":"1.5","t":55,"v":-48},{"s":"1.5","t":61.8,"v":-37.9},{"s":"1.5","t":66.5,"v":-48},{"s":"1.5","t":70.8,"v":-53.4},{"s":"1.5","t":74.6,"v":-40.2},{"s":"1.5","t":82.5,"v":-38.6},{"s":"1.5","t":86.5,"v":-27},{"s":"1.5","t":90.3,"v":-23.1},{"s":"1.5","t":94.6,"v":-36.3},{"s":"1.5","t":98.4,"v":-19.2},
{"s":"2","t":3.3,"v":-135},{"s":"2","t":12.1,"v":-143},{"s":"2","t":20.7,"v":-97},{"s":"2","t":28.7,"v":-118},{"s":"2","t":32.6,"v":-102},{"s":"2","t":36.8,"v":-116.5},{"s":"2","t":47,"v":-91},{"s":"2","t":55.5,"v":-92},{"s":"2","t":62.9,"v":-85},{"s":"2","t":70.5,"v":-89},{"s":"2","t":74.8,"v":-71},{"s":"2","t":79,"v":-85},{"s":"2","t":86.5,"v":-48},{"s":"2","t":90.6,"v":-93},{"s":"2","t":94.6,"v":-54},{"s":"2","t":98.2,"v":-57},
{"s":"2.5","t":3.6,"v":-167},{"s":"2.5","t":12.3,"v":-162},{"s":"2.5","t":17.3,"v":-173},{"s":"2.5","t":20.9,"v":-169},{"s":"2.5","t":28.8,"v":-159},{"s":"2.5","t":32.7,"v":-171},{"s":"2.5","t":36.9,"v":-163},{"s":"2.5","t":46.9,"v":-157},{"s":"2.5","t":55.5,"v":-155},{"s":"2.5","t":63.1,"v":-147},{"s":"2.5","t":71,"v":-135},{"s":"2.5","t":75.3,"v":-139},{"s":"2.5","t":79.3,"v":-134},{"s":"2.5","t":82.9,"v":-118},{"s":"2.5","t":87,"v":-138},{"s":"2.5","t":91,"v":-118},{"s":"2.5","t":95.1,"v":-113},{"s":"2.5","t":100,"v":-114},
{"s":"3","t":2.4,"v":-194},{"s":"3","t":11,"v":-173},{"s":"3","t":21.3,"v":-200},{"s":"3","t":25.4,"v":-166},{"s":"3","t":29.4,"v":-179},{"s":"3","t":33.5,"v":-194},{"s":"3","t":37.3,"v":-166},{"s":"3","t":46.8,"v":-157},{"s":"3","t":51.4,"v":-161},{"s":"3","t":56.1,"v":-164},{"s":"3","t":62.2,"v":-148},{"s":"3","t":66.7,"v":-157},{"s":"3","t":71.2,"v":-169},{"s":"3","t":76.6,"v":-163},{"s":"3","t":79.8,"v":-153},{"s":"3","t":83.4,"v":-138},{"s":"3","t":87.1,"v":-152},{"s":"3","t":91,"v":-141},{"s":"3","t":95.7,"v":-149},{"s":"3","t":100,"v":-138},
{"s":"3.5","t":4.2,"v":-213},{"s":"3.5","t":13.7,"v":-208},{"s":"3.5","t":19.5,"v":-205},{"s":"3.5","t":25.4,"v":-213},{"s":"3.5","t":29.4,"v":-200},{"s":"3.5","t":37.8,"v":-188},{"s":"3.5","t":41.1,"v":-218},{"s":"3.5","t":48.3,"v":-200},{"s":"3.5","t":52.3,"v":-208},{"s":"3.5","t":55.9,"v":-200},{"s":"3.5","t":60.4,"v":-184},{"s":"3.5","t":64,"v":-179},{"s":"3.5","t":69.4,"v":-171},{"s":"3.5","t":73,"v":-165},{"s":"3.5","t":76.2,"v":-153},{"s":"3.5","t":79.8,"v":-175},{"s":"3.5","t":82.9,"v":-161},{"s":"3.5","t":87.9,"v":-169},{"s":"3.5","t":91,"v":-153},{"s":"3.5","t":95.1,"v":-153},{"s":"3.5","t":100,"v":-165},
{"s":"4","t":3.8,"v":-222},{"s":"4","t":8.3,"v":-222},{"s":"4","t":12.8,"v":-282},{"s":"4","t":17.7,"v":-236},{"s":"4","t":22.7,"v":-258},{"s":"4","t":25.5,"v":-258},{"s":"4","t":29.7,"v":-229},{"s":"4","t":33.6,"v":-282},{"s":"4","t":37.5,"v":-225},{"s":"4","t":41.1,"v":-235},{"s":"4","t":44.2,"v":-200},{"s":"4","t":48,"v":-245},{"s":"4","t":52.5,"v":-223},{"s":"4","t":55.9,"v":-183},{"s":"4","t":61.6,"v":-212},{"s":"4","t":65.8,"v":-194},{"s":"4","t":69.4,"v":-198},{"s":"4","t":74.4,"v":-180},{"s":"4","t":79.6,"v":-179},{"s":"4","t":86.5,"v":-203},{"s":"4","t":91,"v":-180},{"s":"4","t":96,"v":-169},{"s":"4","t":100,"v":-200},
{"s":"4.5","t":4.2,"v":-270},{"s":"4.5","t":13.7,"v":-272},{"s":"4.5","t":18.2,"v":-279},{"s":"4.5","t":22.2,"v":-257},{"s":"4.5","t":26.3,"v":-266},{"s":"4.5","t":29.9,"v":-260},{"s":"4.5","t":34.4,"v":-260},{"s":"4.5","t":37.9,"v":-261},{"s":"4.5","t":41.5,"v":-272},{"s":"4.5","t":44.7,"v":-243},{"s":"4.5","t":48.3,"v":-261},{"s":"4.5","t":52.8,"v":-250},{"s":"4.5","t":55.9,"v":-239},{"s":"4.5","t":60.4,"v":-229},{"s":"4.5","t":64.5,"v":-235},{"s":"4.5","t":69.4,"v":-233},{"s":"4.5","t":73.9,"v":-235},{"s":"4.5","t":80.2,"v":-233},{"s":"4.5","t":83.8,"v":-212},{"s":"4.5","t":87.4,"v":-208},{"s":"4.5","t":91.9,"v":-200},{"s":"4.5","t":96,"v":-212},{"s":"4.5","t":100,"v":-212},
{"s":"5","t":4.9,"v":-334},{"s":"5","t":9,"v":-283},{"s":"5","t":13.8,"v":-279},{"s":"5","t":18.2,"v":-288},{"s":"5","t":22.5,"v":-293},{"s":"5","t":26.1,"v":-275},{"s":"5","t":30.1,"v":-307},{"s":"5","t":33.9,"v":-284},{"s":"5","t":38.1,"v":-288},{"s":"5","t":45,"v":-275},{"s":"5","t":53.2,"v":-245},{"s":"5","t":56.4,"v":-262},{"s":"5","t":60.4,"v":-262},{"s":"5","t":64.5,"v":-268},{"s":"5","t":68.5,"v":-288},{"s":"5","t":72.8,"v":-291},{"s":"5","t":76.6,"v":-278},{"s":"5","t":80.2,"v":-250},{"s":"5","t":83.8,"v":-254},{"s":"5","t":88.5,"v":-279},{"s":"5","t":92.4,"v":-233},{"s":"5","t":96.4,"v":-244},{"s":"5","t":100,"v":-218}
]
},
"vconcat":[
{"spacing":0,"bounds":"flush","resolve":{"scale":{"color":"independent","fill":"independent","stroke":"independent","shape":"independent"}},"hconcat":[
{"width":513,"height":429,"data":{"name":"p1"},"resolve":{"axis":{"x":"independent","y":"independent"}},
 "encoding":{
  "x":{"field":"t","type":"quantitative","scale":{"domain":[0,100],"range":[122,498],"nice":false,"zero":false},"axis":null},
  "y":{"field":"v","type":"quantitative","scale":{"domain":[1400,2200],"range":[351,81],"nice":false,"zero":false},"axis":null}},
 "layer":[
  {"data":{"values":[{"t":0,"t2":100,"v":1400,"v2":2200}]},"mark":{"type":"rect","fill":"transparent","stroke":"#777777","strokeWidth":1},"encoding":{
   "x":{"field":"t","type":"quantitative","axis":{"orient":"bottom","offset":-78,"values":[0,5,10,15,20,25,30,35,40,45,50,55,60,65,70,75,80,85,90,95,100],"labels":false,"domain":false,"tickSize":2,"title":null}},
   "y":{"field":"v","type":"quantitative","axis":{"orient":"left","offset":-122,"values":[1400,1500,1600,1700,1800,1900,2000,2100,2200],"labels":false,"domain":false,"tickSize":2,"title":null}},
   "x2":{"field":"t2"},"y2":{"field":"v2"}}},
  {"mark":{"type":"line","strokeWidth":1},"encoding":{
   "x":{"field":"t","type":"quantitative","axis":{"orient":"bottom","offset":-78,"values":[0,20,40,60,80,100],"title":"Time (min)"}},
   "y":{"field":"v","type":"quantitative","axis":{"orient":"left","offset":-122,"values":[1400,1600,1800,2000,2200],"title":"Storage Modulus (Pa)"}},
   "color":{"field":"s","type":"nominal","scale":{"domain":["0.1","0.2","0.3","0.4","0.5"],"range":["#1f1fcf","#ff1010","#108010","#ff00ff","#000000"]},"legend":null}}},
  {"mark":{"type":"point","size":40,"strokeWidth":1.5,"opacity":1},"encoding":{
   "shape":{"field":"s","type":"nominal","scale":{"domain":["0.1","0.2","0.3","0.4","0.5"],"range":["square","circle","square","circle","diamond"]},"legend":null},
   "stroke":{"field":"s","type":"nominal","scale":{"domain":["0.1","0.2","0.3","0.4","0.5"],"range":["#1f1fcf","#ff1010","#108010","#ff00ff","#000000"]},"legend":null},
   "fill":{"field":"s","type":"nominal","scale":{"domain":["0.1","0.2","0.3","0.4","0.5"],"range":["white","#ff1010","#108010","white","#000000"]},"legend":null}}},
  {"data":{"values":[{"t":5.3,"v":2081}]},"mark":{"type":"text","align":"left","baseline":"middle","fontSize":12,"lineHeight":14,"text":["□ 0.1,  ● 0.2,","■ 0.3,  ○ 0.4,","◆ 0.5 Hz"]}}
 ]},
{"width":479,"height":429,"data":{"name":"p2"},"resolve":{"axis":{"x":"independent","y":"independent"}},
 "encoding":{
  "x":{"field":"t","type":"quantitative","scale":{"domain":[0,100],"range":[51,407],"nice":false,"zero":false},"axis":null},
  "y":{"field":"v","type":"quantitative","scale":{"domain":[1000,2400],"range":[340,83],"nice":false,"zero":false},"axis":null}},
 "layer":[
  {"data":{"values":[{"t":0,"t2":100,"v":1000,"v2":2400}]},"mark":{"type":"rect","fill":"transparent","stroke":"#777777","strokeWidth":1},"encoding":{
   "x":{"field":"t","type":"quantitative","axis":{"orient":"bottom","offset":-89,"values":[0,5,10,15,20,25,30,35,40,45,50,55,60,65,70,75,80,85,90,95,100],"labels":false,"domain":false,"tickSize":2,"title":null}},
   "y":{"field":"v","type":"quantitative","axis":{"orient":"left","offset":-51,"values":[1000,1100,1200,1300,1400,1500,1600,1700,1800,1900,2000,2100,2200,2300,2400],"labels":false,"domain":false,"tickSize":2,"title":null}},
   "x2":{"field":"t2"},"y2":{"field":"v2"}}},
  {"mark":{"type":"line","strokeWidth":1},"encoding":{
   "x":{"field":"t","type":"quantitative","axis":{"orient":"bottom","offset":-89,"values":[0,20,40,60,80,100],"title":"Time (min)"}},
   "y":{"field":"v","type":"quantitative","axis":{"orient":"left","offset":-51,"values":[1000,1200,1400,1600,1800,2000,2200,2400],"title":"Storage Modulus (Pa)"}},
   "color":{"field":"s","type":"nominal","scale":{"domain":["0.5","1","1.5","2","2.5","3","3.5","4","4.5","5"],"range":["#1f1fcf","#ff1010","#108010","#ff00ff","#000000","#8b2323","#3050ff","#a0a028","#2e9a2e","#800080"]},"legend":null}}},
  {"transform":[{"filter":{"field":"s","oneOf":["0.5","1","1.5","2","2.5","5"]}}],"mark":{"type":"point","size":42,"strokeWidth":1.5,"opacity":1},"encoding":{
   "shape":{"field":"s","type":"nominal","scale":{"domain":["0.5","1","1.5","2","2.5","5"],"range":["square","circle","square","circle","diamond","diamond"]},"legend":null},
   "stroke":{"field":"s","type":"nominal","scale":{"domain":["0.5","1","1.5","2","2.5","5"],"range":["#1f1fcf","#ff1010","#108010","#ff00ff","#000000","#800080"]},"legend":null},
   "fill":{"field":"s","type":"nominal","scale":{"domain":["0.5","1","1.5","2","2.5","5"],"range":["white","#ff1010","#108010","white","#000000","#800080"]},"legend":null}}},
  {"data":{"values":[{"t":49.4,"t2":89.3,"v":1050,"v2":1610}]},"mark":{"type":"rect","fill":"white","stroke":"black","strokeWidth":1},"encoding":{"x2":{"field":"t2"},"y2":{"field":"v2"}}},
  {"data":{"name":"p2i"},"mark":{"type":"line","strokeWidth":1},"encoding":{"color":{"field":"s","type":"nominal","legend":null}}},
  {"data":{"name":"p2m"},"mark":{"type":"point","size":42,"strokeWidth":1.5,"opacity":1},"encoding":{"shape":{"field":"s","type":"nominal","legend":null},"stroke":{"field":"s","type":"nominal","legend":null},"fill":{"field":"s","type":"nominal","legend":null}}},
  {"data":{"values":[{"t":5.3,"v":2286}]},"mark":{"type":"text","align":"left","baseline":"middle","fontSize":12,"lineHeight":13.5,"text":["□ 0.5,  ● 1,","■ 1.5,  ○ 2,","◆ 2.5,  ⋏ 3,","⋎ 3.5,  ≻ 4,","≺ 4.5,  ◆ 5 Hz"]}}
 ]}
]},
{"spacing":0,"bounds":"flush","resolve":{"scale":{"color":"independent","fill":"independent","stroke":"independent","shape":"independent"}},"hconcat":[
{"width":513,"height":439,"data":{"name":"p3"},"resolve":{"axis":{"x":"independent","y":"independent"}},
 "encoding":{
  "x":{"field":"t","type":"quantitative","scale":{"domain":[0,70],"range":[146,494],"nice":false,"zero":false},"axis":null},
  "y":{"field":"v","type":"quantitative","scale":{"domain":[1400,2200],"range":[307,59],"nice":false,"zero":false},"axis":null}},
 "layer":[
  {"data":{"values":[{"t":0,"t2":70,"v":1400,"v2":2200}]},"mark":{"type":"rect","fill":"transparent","stroke":"#777777","strokeWidth":1},"encoding":{
   "x":{"field":"t","type":"quantitative","axis":{"orient":"bottom","offset":-132,"values":[0,2.5,5,7.5,10,12.5,15,17.5,20,22.5,25,27.5,30,32.5,35,37.5,40,42.5,45,47.5,50,52.5,55,57.5,60,62.5,65,67.5,70],"labels":false,"domain":false,"tickSize":2,"title":null}},
   "y":{"field":"v","type":"quantitative","axis":{"orient":"left","offset":-146,"values":[1400,1500,1600,1700,1800,1900,2000,2100,2200],"labels":false,"domain":false,"tickSize":2,"title":null}},
   "x2":{"field":"t2"},"y2":{"field":"v2"}}},
  {"mark":{"type":"line","strokeWidth":1},"encoding":{
   "x":{"field":"t","type":"quantitative","axis":{"orient":"bottom","offset":-132,"values":[0,10,20,30,40,50,60,70],"title":"Time (min)"}},
   "y":{"field":"v","type":"quantitative","axis":{"orient":"left","offset":-146,"values":[1400,1600,1800,2000,2200],"title":"Storage Modulus (Pa)"}},
   "color":{"field":"s","type":"nominal","scale":{"domain":["5","6","7","8","9","10"],"range":["#000000","#000000","#000000","#000000","#000000","#555555"]},"legend":null}}},
  {"mark":{"type":"point","size":34,"strokeWidth":1.4,"opacity":1},"encoding":{
   "shape":{"field":"s","type":"nominal","scale":{"domain":["5","6","7","8","9","10"],"range":["square","circle","square","circle","diamond","M0,-1L0.22,-0.22L1,0L0.22,0.22L0,1L-0.22,0.22L-1,0L-0.22,-0.22Z"]},"legend":null},
   "stroke":{"field":"s","type":"nominal","scale":{"domain":["5","6","7","8","9","10"],"range":["#000000","#000000","#000000","#000000","#000000","#666666"]},"legend":null},
   "fill":{"field":"s","type":"nominal","scale":{"domain":["5","6","7","8","9","10"],"range":["white","#000000","#000000","white","#000000","white"]},"legend":null}}},
  {"data":{"values":[{"t":3,"v":1952}]},"mark":{"type":"text","align":"left","baseline":"middle","fontSize":11.5,"lineHeight":12.5,"text":["□ 5,  ● 6,  ■ 7,","○ 8,  ◆ 9,","✧ 10 Hz"]}}
 ]},
{"width":479,"height":439,"data":{"name":"p4"},"resolve":{"axis":{"x":"independent","y":"independent"}},
 "encoding":{
  "x":{"field":"t","type":"quantitative","scale":{"domain":[0,100],"range":[47,423],"nice":false,"zero":false},"axis":null},
  "y":{"field":"v","type":"quantitative","scale":{"domain":[30,80],"range":[337,68],"nice":false,"zero":false},"axis":null}},
 "layer":[
  {"data":{"values":[{"t":0,"t2":100,"v":30,"v2":80}]},"mark":{"type":"rect","fill":"transparent","stroke":"#777777","strokeWidth":1},"encoding":{
   "x":{"field":"t","type":"quantitative","axis":{"orient":"bottom","offset":-102,"values":[0,5,10,15,20,25,30,35,40,45,50,55,60,65,70,75,80,85,90,95,100],"labels":false,"domain":false,"tickSize":2,"title":null}},
   "y":{"field":"v","type":"quantitative","axis":{"orient":"left","offset":-47,"values":[30,35,40,45,50,55,60,65,70,75,80],"labels":false,"domain":false,"tickSize":2,"title":null}},
   "x2":{"field":"t2"},"y2":{"field":"v2"}}},
  {"mark":{"type":"line","strokeWidth":1},"encoding":{
   "x":{"field":"t","type":"quantitative","axis":{"orient":"bottom","offset":-102,"values":[0,20,40,60,80,100],"title":"Time (min)"}},
   "y":{"field":"v","type":"quantitative","axis":{"orient":"left","offset":-47,"values":[30,40,50,60,70,80],"title":"Stiffness (N/m)"}},
   "color":{"field":"s","type":"nominal","scale":{"domain":["0.5","1","1.5","2","2.5","3","3.5","4","4.5","5"],"range":["#1f1fcf","#ff1010","#108010","#ff00ff","#000000","#8b2323","#3050ff","#a0a028","#2e9a2e","#800080"]},"legend":null}}},
  {"transform":[{"filter":{"field":"s","oneOf":["0.5","1","1.5","2","2.5","5"]}}],"mark":{"type":"point","size":42,"strokeWidth":1.5,"opacity":1},"encoding":{
   "shape":{"field":"s","type":"nominal","scale":{"domain":["0.5","1","1.5","2","2.5","5"],"range":["square","circle","square","circle","diamond","diamond"]},"legend":null},
   "stroke":{"field":"s","type":"nominal","scale":{"domain":["0.5","1","1.5","2","2.5","5"],"range":["#1f1fcf","#ff1010","#108010","#ff00ff","#000000","#800080"]},"legend":null},
   "fill":{"field":"s","type":"nominal","scale":{"domain":["0.5","1","1.5","2","2.5","5"],"range":["white","#ff1010","#108010","white","#000000","#800080"]},"legend":null}}},
  {"data":{"values":[{"t":35,"t2":75,"v":31.2,"v2":51.3}]},"mark":{"type":"rect","fill":"white","stroke":"black","strokeWidth":1},"encoding":{"x2":{"field":"t2"},"y2":{"field":"v2"}}},
  {"data":{"name":"p4i"},"mark":{"type":"line","strokeWidth":1},"encoding":{"color":{"field":"s","type":"nominal","legend":null}}},
  {"data":{"name":"p4m"},"mark":{"type":"point","size":42,"strokeWidth":1.5,"opacity":1},"encoding":{"shape":{"field":"s","type":"nominal","legend":null},"stroke":{"field":"s","type":"nominal","legend":null},"fill":{"field":"s","type":"nominal","legend":null}}},
  {"data":{"values":[{"t":5.3,"v":78.1}]},"mark":{"type":"text","align":"left","baseline":"middle","fontSize":12,"lineHeight":14,"text":["□ 0.5,  ● 1,","■ 1.5,  ○ 2,","◆ 2.5,  ⋏ 3,","⋎ 3.5,  ≻ 4,","≺ 4.5,  ◆ 5 Hz"]}}
 ]}
]},
{"spacing":0,"bounds":"flush","resolve":{"scale":{"color":"independent","fill":"independent","stroke":"independent","shape":"independent"}},"hconcat":[
{"width":513,"height":428,"data":{"name":"p5"},"resolve":{"axis":{"x":"independent","y":"independent"}},
 "encoding":{
  "x":{"field":"t","type":"quantitative","scale":{"domain":[0,70],"range":[105,496],"nice":false,"zero":false},"axis":null},
  "y":{"field":"v","type":"quantitative","scale":{"domain":[40,60],"range":[352,72],"nice":false,"zero":false},"axis":null}},
 "layer":[
  {"data":{"values":[{"t":0,"t2":70,"v":40,"v2":60}]},"mark":{"type":"rect","fill":"transparent","stroke":"#777777","strokeWidth":1},"encoding":{
   "x":{"field":"t","type":"quantitative","axis":{"orient":"bottom","offset":-76,"values":[0,2.5,5,7.5,10,12.5,15,17.5,20,22.5,25,27.5,30,32.5,35,37.5,40,42.5,45,47.5,50,52.5,55,57.5,60,62.5,65,67.5,70],"labels":false,"domain":false,"tickSize":2,"title":null}},
   "y":{"field":"v","type":"quantitative","axis":{"orient":"left","offset":-105,"values":[40,41,42,43,44,45,46,47,48,49,50,51,52,53,54,55,56,57,58,59,60],"labels":false,"domain":false,"tickSize":2,"title":null}},
   "x2":{"field":"t2"},"y2":{"field":"v2"}}},
  {"mark":{"type":"line","strokeWidth":1},"encoding":{
   "x":{"field":"t","type":"quantitative","axis":{"orient":"bottom","offset":-76,"values":[0,10,20,30,40,50,60,70],"title":"Time (min)"}},
   "y":{"field":"v","type":"quantitative","axis":{"orient":"left","offset":-105,"values":[40,45,50,55,60],"title":"Stiffness (N/m)"}},
   "color":{"field":"s","type":"nominal","scale":{"domain":["5","6","7","8","9","10"],"range":["#000000","#000000","#000000","#000000","#000000","#555555"]},"legend":null}}},
  {"mark":{"type":"point","size":34,"strokeWidth":1.4,"opacity":1},"encoding":{
   "shape":{"field":"s","type":"nominal","scale":{"domain":["5","6","7","8","9","10"],"range":["square","circle","square","circle","diamond","M0,-1L0.22,-0.22L1,0L0.22,0.22L0,1L-0.22,0.22L-1,0L-0.22,-0.22Z"]},"legend":null},
   "stroke":{"field":"s","type":"nominal","scale":{"domain":["5","6","7","8","9","10"],"range":["#000000","#000000","#000000","#000000","#000000","#666666"]},"legend":null},
   "fill":{"field":"s","type":"nominal","scale":{"domain":["5","6","7","8","9","10"],"range":["white","#000000","#000000","white","#000000","white"]},"legend":null}}},
  {"data":{"values":[{"t":45.3,"v":44.4}]},"mark":{"type":"text","align":"left","baseline":"middle","fontSize":12,"lineHeight":13.5,"text":["□ 5,  ● 6,  ■ 7,","○ 8,  ◆ 9,","✧ 10 Hz"]}}
 ]},
{"width":479,"height":428,"data":{"name":"p6"},"resolve":{"axis":{"x":"independent","y":"independent"}},
 "encoding":{
  "x":{"field":"t","type":"quantitative","scale":{"domain":[0,120],"range":[57,432],"nice":false,"zero":false},"axis":null},
  "y":{"field":"v","type":"quantitative","scale":{"domain":[-50,150],"range":[351,83],"nice":false,"zero":false},"axis":null}},
 "layer":[
  {"data":{"values":[{"t":0,"t2":120,"v":-50,"v2":150}]},"mark":{"type":"rect","fill":"transparent","stroke":"#777777","strokeWidth":1},"encoding":{
   "x":{"field":"t","type":"quantitative","axis":{"orient":"bottom","offset":-77,"values":[0,5,10,15,20,25,30,35,40,45,50,55,60,65,70,75,80,85,90,95,100,105,110,115,120],"labels":false,"domain":false,"tickSize":2,"title":null}},
   "y":{"field":"v","type":"quantitative","axis":{"orient":"left","offset":-57,"values":[-50,-25,0,25,50,75,100,125,150],"labels":false,"domain":false,"tickSize":2,"title":null}},
   "x2":{"field":"t2"},"y2":{"field":"v2"}}},
  {"mark":{"type":"line","strokeWidth":1},"encoding":{
   "x":{"field":"t","type":"quantitative","axis":{"orient":"bottom","offset":-77,"values":[0,20,40,60,80,100,120],"title":"Time (min)"}},
   "y":{"field":"v","type":"quantitative","axis":{"orient":"left","offset":-57,"values":[-50,0,50,100,150],"title":"Loss Modulus (Pa)"}},
   "color":{"field":"s","type":"nominal","scale":{"domain":["0.1","0.2","0.3","0.4","0.5"],"range":["#1f1fcf","#ff1010","#108010","#ff00ff","#000000"]},"legend":null}}},
  {"mark":{"type":"point","size":32,"strokeWidth":1.5,"opacity":1},"encoding":{
   "shape":{"field":"s","type":"nominal","scale":{"domain":["0.1","0.2","0.3","0.4","0.5"],"range":["square","circle","square","circle","diamond"]},"legend":null},
   "stroke":{"field":"s","type":"nominal","scale":{"domain":["0.1","0.2","0.3","0.4","0.5"],"range":["#1f1fcf","#ff1010","#108010","#ff00ff","#000000"]},"legend":null},
   "fill":{"field":"s","type":"nominal","scale":{"domain":["0.1","0.2","0.3","0.4","0.5"],"range":["white","#ff1010","#108010","white","#000000"]},"legend":null}}},
  {"data":{"values":[{"t":6.4,"v":120.9}]},"mark":{"type":"text","align":"left","baseline":"middle","fontSize":12,"lineHeight":14,"text":["□ 0.1,  ● 0.2,","■ 0.3,  ○ 0.4,","◆ 0.5 Hz"]}}
 ]}
]},
{"spacing":0,"bounds":"flush","resolve":{"scale":{"color":"independent","fill":"independent","stroke":"independent","shape":"independent"}},"hconcat":[
{"width":513,"height":425,"data":{"name":"p7"},"resolve":{"axis":{"x":"independent","y":"independent"}},
 "encoding":{
  "x":{"field":"t","type":"quantitative","scale":{"domain":[0,100],"range":[108,498],"nice":false,"zero":false},"axis":null},
  "y":{"field":"v","type":"quantitative","scale":{"domain":[-400,100],"range":[353,75],"nice":false,"zero":false},"axis":null}},
 "layer":[
  {"data":{"values":[{"t":0,"t2":100,"v":-400,"v2":100}]},"mark":{"type":"rect","fill":"transparent","stroke":"#777777","strokeWidth":1},"encoding":{
   "x":{"field":"t","type":"quantitative","axis":{"orient":"bottom","offset":-72,"values":[0,5,10,15,20,25,30,35,40,45,50,55,60,65,70,75,80,85,90,95,100],"labels":false,"domain":false,"tickSize":2,"title":null}},
   "y":{"field":"v","type":"quantitative","axis":{"orient":"left","offset":-108,"values":[-400,-375,-350,-325,-300,-275,-250,-225,-200,-175,-150,-125,-100,-75,-50,-25,0,25,50,75,100],"labels":false,"domain":false,"tickSize":2,"title":null}},
   "x2":{"field":"t2"},"y2":{"field":"v2"}}},
  {"mark":{"type":"line","strokeWidth":1},"encoding":{
   "x":{"field":"t","type":"quantitative","axis":{"orient":"bottom","offset":-72,"values":[0,20,40,60,80,100],"title":"Time (min)"}},
   "y":{"field":"v","type":"quantitative","axis":{"orient":"left","offset":-108,"values":[-400,-300,-200,-100,0,100],"title":"Loss Modulus (Pa)"}},
   "color":{"field":"s","type":"nominal","scale":{"domain":["0.5","1","1.5","2","2.5","3","3.5","4","4.5","5"],"range":["#1f1fcf","#ff1010","#108010","#ff00ff","#000000","#8b2323","#3050ff","#a0a028","#2e9a2e","#800080"]},"legend":null}}},
  {"transform":[{"filter":{"field":"s","oneOf":["0.5","1","1.5","2","2.5","5"]}}],"mark":{"type":"point","size":36,"strokeWidth":1.5,"opacity":1},"encoding":{
   "shape":{"field":"s","type":"nominal","scale":{"domain":["0.5","1","1.5","2","2.5","5"],"range":["square","circle","square","circle","diamond","diamond"]},"legend":null},
   "stroke":{"field":"s","type":"nominal","scale":{"domain":["0.5","1","1.5","2","2.5","5"],"range":["#1f1fcf","#ff1010","#108010","#ff00ff","#000000","#800080"]},"legend":null},
   "fill":{"field":"s","type":"nominal","scale":{"domain":["0.5","1","1.5","2","2.5","5"],"range":["white","#ff1010","#108010","white","#000000","#800080"]},"legend":null}}},
  {"data":{"values":[{"t":5.6,"v":82}]},"mark":{"type":"text","align":"left","baseline":"middle","fontSize":12,"lineHeight":14.5,"text":["□ 0.5,  ● 1,","■ 1.5,  ○ 2,","◆ 2.5,  ⋏ 3,","⋎ 3.5,  ≻ 4,","≺ 4.5,  ◆ 5 Hz"]}}
 ]},
{"width":479,"height":425,"data":{"values":[{}]},
 "mark":{"type":"text","font":"Liberation Serif","fontSize":24,"align":"center","baseline":"middle","lineHeight":37,"color":"black","text":["Fig. 4 Proprietatile elastice ale noillor","hidrogeluri  care s-au dovedit a fi bune","suporturi de crestere pentru celule"]},
 "encoding":{"x":{"datum":0.5157,"type":"quantitative","scale":{"domain":[0,1],"range":[0,479]},"axis":null},"y":{"datum":0.3294,"type":"quantitative","scale":{"domain":[0,1],"range":[0,425]},"axis":null}}}
]}
]
}
